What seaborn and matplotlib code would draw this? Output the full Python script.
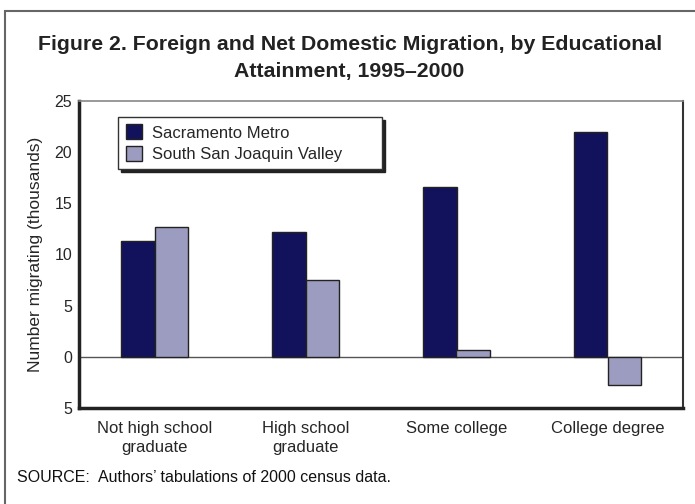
import pandas as pd
import numpy as np
import seaborn as sns
import matplotlib.pyplot as plt
from matplotlib.patches import Rectangle

# Dados (milhares)
categorias = ["Not high school\ngraduate", "High school\ngraduate", "Some college", "College degree"]
regioes = ["Sacramento Metro", "South San Joaquin Valley"]
sacramento = [11.3, 12.2, 16.6, 22.0]
san_joaquin = [12.7, 7.5, 0.7, -2.8]
ticks_y = [-5, 0, 5, 10, 15, 20, 25]
rotulos_y = ["5", "0", "5", "10", "15", "20", "25"]

dados = pd.DataFrame({
    "Categoria": categorias * 2,
    "Regiao": [regioes[0]] * 4 + [regioes[1]] * 4,
    "Valor": sacramento + san_joaquin,
})

sns.set_style("white")
plt.rcParams['font.family'] = ['Liberation Sans', 'DejaVu Sans']

fig = plt.figure(figsize=(6.95, 5.04), dpi=100)
ax = fig.add_axes([79 / 695, 1 - 408 / 504, 604 / 695, 307 / 504])

cores = ["#12125c", "#9c9cc0"]
sns.barplot(data=dados, x="Categoria", y="Valor", hue="Regiao", palette=cores, saturation=1,
            width=0.44, edgecolor="#222222", linewidth=1.0, ax=ax, zorder=3)

ax.axhline(0, color="#555555", lw=1.0, zorder=2)
ax.set_xlim(-0.5, 3.5)
ax.set_ylim(-5, 25)
ax.set_yticks(ticks_y)
ax.set_yticklabels(rotulos_y, fontsize=11.5)
ax.tick_params(axis="y", direction="in", length=12, width=1, color="#333333", pad=5)
ax.tick_params(axis="x", length=0, labelsize=12, pad=9)
ax.set_xticks([0.5, 1.5, 2.5], minor=True)
ax.tick_params(axis="x", which="minor", direction="in", length=12, width=1, color="#333333")
for t in ax.get_xticklabels():
    t.set_linespacing(1.35)
ax.set_xlabel("")
ax.set_ylabel("Number migrating (thousands)", fontsize=12.5, labelpad=8)

for lado, lw, cor in [("left", 2.5, "#222222"), ("bottom", 2.5, "#222222"),
                      ("right", 1.5, "#333333"), ("top", 1.2, "#888888")]:
    ax.spines[lado].set_visible(True)
    ax.spines[lado].set_linewidth(lw)
    ax.spines[lado].set_color(cor)

leg = ax.legend(loc="upper left", bbox_to_anchor=(0.0646, 0.7, 0.437, 0.248), mode="expand",
                fontsize=12, frameon=True, fancybox=False,
                shadow={"color": "#222222", "alpha": 1},
                edgecolor="#333333", handlelength=1.0, handleheight=1.0,
                handletextpad=0.6, borderpad=0.45, labelspacing=0.3, borderaxespad=0)
leg.get_frame().set_linewidth(1.0)

fig.text(0.503, 1 - 45 / 504, "Figure 2. Foreign and Net Domestic Migration, by Educational",
         ha="center", va="center", fontsize=15.3, fontweight="bold", color="#222222")
fig.text(0.503, 1 - 72 / 504, "Attainment, 1995\u20132000",
         ha="center", va="center", fontsize=15.3, fontweight="bold", color="#222222")
fig.text(17 / 695, 1 - 478 / 504, "SOURCE:  Authors\u2019 tabulations of 2000 census data.",
         ha="left", va="center", fontsize=11.5, color="#111111")

fig.patches.append(Rectangle((5 / 695, -0.02), 1.0, 0.978 + 0.02, transform=fig.transFigure,
                             fill=False, edgecolor="#666666", linewidth=1.5))

plt.savefig("out.png", dpi=100)
